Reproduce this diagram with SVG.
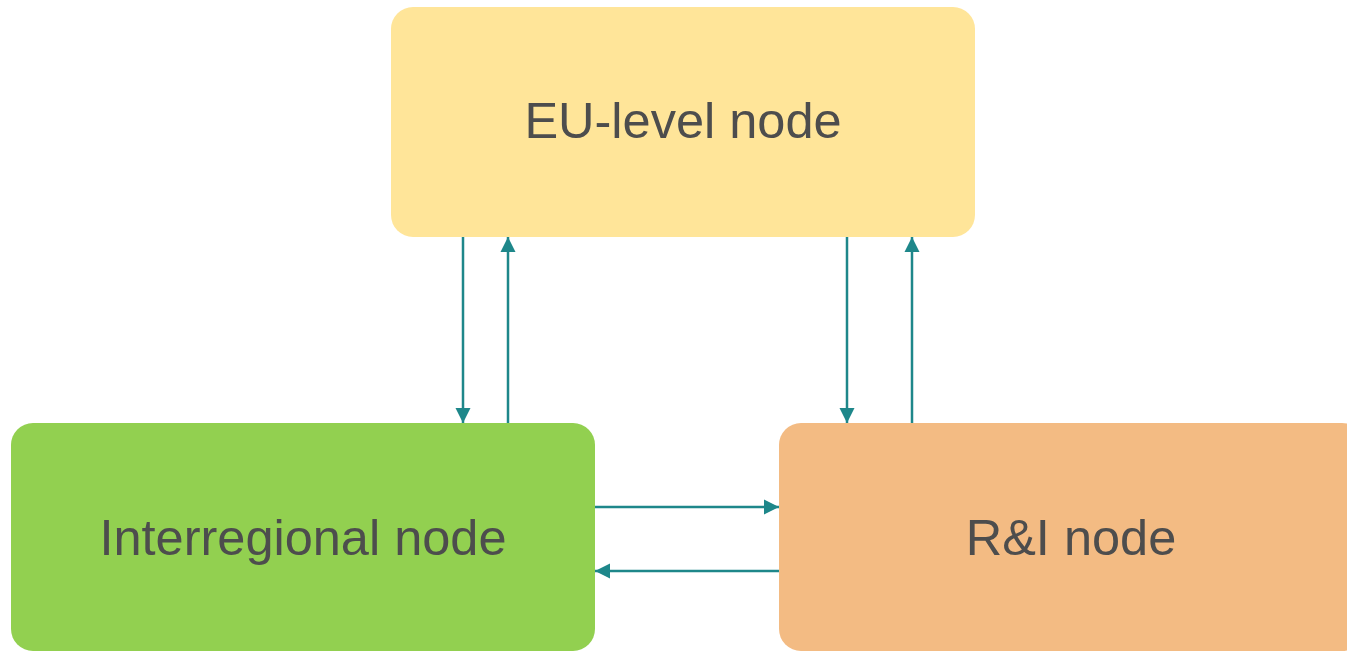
<svg xmlns="http://www.w3.org/2000/svg" width="1347" height="651" viewBox="0 0 1347 651">
<style>
.lbl{font-family:"Liberation Sans",Arial,sans-serif;font-size:50.5px;fill:#4D4D4D;text-anchor:middle}
.con{stroke:#1E878A;stroke-width:2.5;fill:none}
</style>
<defs>
<marker id="ah" viewBox="0 0 10 10" refX="10" refY="5" markerUnits="userSpaceOnUse" markerWidth="15" markerHeight="16" orient="auto">
<path d="M0,0 L10,5 L0,10 Z" fill="#1E878A"/>
</marker>
</defs>
<rect width="1347" height="651" fill="#FFFFFF"/>
<g id="eu-node">
<rect x="391" y="7" width="584" height="230" rx="22" fill="#FFE599"/>
<text class="lbl" x="683" y="138">EU-level node</text>
</g>
<g id="interregional-node">
<rect x="11" y="423" width="584" height="228" rx="22" fill="#92D050"/>
<text class="lbl" x="303" y="555">Interregional node</text>
</g>
<g id="ri-node">
<rect x="779" y="423" width="585" height="228" rx="22" fill="#F3BB83"/>
<text class="lbl" x="1071" y="555">R&amp;I node</text>
</g>
<g id="connectors">
<line class="con" x1="463" y1="237" x2="463" y2="423" marker-end="url(#ah)"/>
<line class="con" x1="508" y1="423" x2="508" y2="237" marker-end="url(#ah)"/>
<line class="con" x1="847" y1="237" x2="847" y2="423" marker-end="url(#ah)"/>
<line class="con" x1="912" y1="423" x2="912" y2="237" marker-end="url(#ah)"/>
<line class="con" x1="595" y1="507" x2="779" y2="507" marker-end="url(#ah)"/>
<line class="con" x1="779" y1="571" x2="595" y2="571" marker-end="url(#ah)"/>
</g>
</svg>
